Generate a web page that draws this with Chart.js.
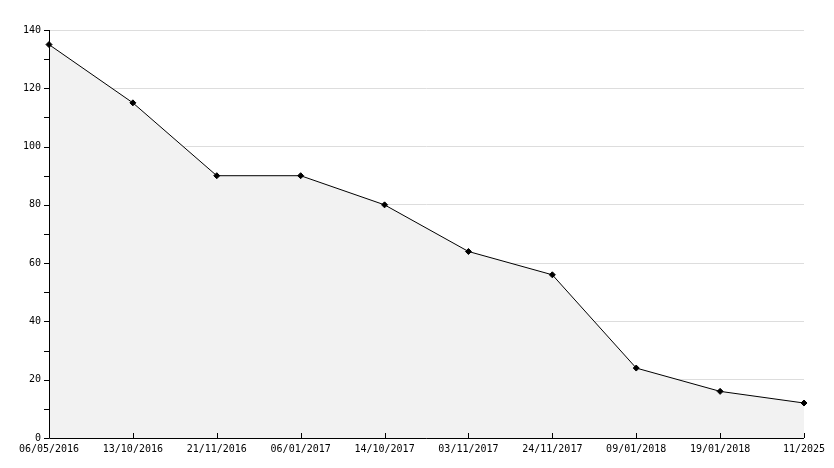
<!DOCTYPE html>
<html><head><meta charset="utf-8">
<script src="https://cdn.jsdelivr.net/npm/chart.js@4"></script>
<style>html,body{margin:0;padding:0;background:#fff}#w{width:834px;height:468px}</style>
</head><body><div id="w"><canvas id="c"></canvas></div>
<script>
const categories = ["06/05/2016","13/10/2016","21/11/2016","06/01/2017","14/10/2017","03/11/2017","24/11/2017","09/01/2018","19/01/2018","11/2025"];
const values = [135,115,90,90,80,64,56,24,16,12];
const yMin = 0, yMax = 140, yStep = 10, yLabelStep = 20;

const tickMarks = {
  id:'tickMarks',
  afterDraw(chart){
    const ctx = chart.ctx, x = chart.scales.x, y = chart.scales.y, a = chart.chartArea;
    ctx.save(); ctx.strokeStyle='#000'; ctx.lineWidth=1;
    ctx.beginPath();
    ctx.moveTo(a.left+0.5,a.top); ctx.lineTo(a.left+0.5,a.bottom+0.5); ctx.lineTo(a.right,a.bottom+0.5);
    for(let v=yMin; v<=yMax; v+=yStep){const p=Math.round(y.getPixelForValue(v))+0.5; ctx.moveTo(a.left-5,p); ctx.lineTo(a.left,p);}
    categories.forEach((c,i)=>{const p=Math.round(x.getPixelForValue(i))+0.5; ctx.moveTo(p,a.bottom); ctx.lineTo(p,a.bottom-5);});
    ctx.stroke(); ctx.restore();
  }
};

new Chart(document.getElementById('c'),{
  type:'line',
  data:{labels:categories,datasets:[{data:values,borderColor:'#000',borderWidth:1,backgroundColor:'#f2f2f2',fill:'origin',
    tension:0,pointStyle:'rectRot',pointRadius:3,pointBackgroundColor:'#000',pointBorderColor:'#000'}]},
  plugins:[tickMarks],
  options:{responsive:true,maintainAspectRatio:false,animation:false,
    layout:{padding:{top:30,right:30,left:0,bottom:0}},
    plugins:{legend:{display:false},tooltip:{enabled:false}},
    scales:{
      x:{offset:false,afterFit(s){s.height=30;},
        grid:{display:false,drawTicks:false},border:{display:false},
        ticks:{font:{family:'DejaVu Sans Mono',size:10},color:'#000',maxRotation:0,autoSkip:false,padding:5}},
      y:{min:yMin,max:yMax,afterFit(s){s.width=49;},
        grid:{drawTicks:false,color:c=>c.tick && c.tick.value%yLabelStep===0 && c.tick.value>0 ? '#dddddd':'transparent'},
        border:{display:false},
        ticks:{stepSize:yStep,font:{family:'DejaVu Sans Mono',size:10},color:'#000',padding:8,
          callback:v=>v%yLabelStep===0?v:''}}
    }}
});
</script></body></html>
